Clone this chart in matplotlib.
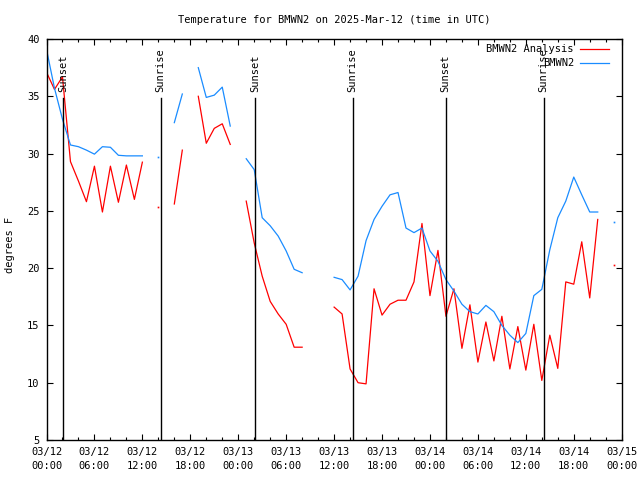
import datetime as dt

import matplotlib
matplotlib.use('Agg')
import matplotlib.pyplot as plt
import matplotlib.dates as mdates
import numpy as np

plt.rcParams['font.family'] = ['DejaVu Sans Mono']
plt.rcParams['font.size'] = 7.5

nan = np.nan
start = dt.datetime(2025, 3, 12, 0, 0)

# hourly values, 03/12 00:00 .. 03/14 23:00 (UTC)
analysis = [37.1, 35.6, 36.7, 29.3, 27.6, 25.8, 28.9, 24.9, 28.9, 25.75, 29.0, 26.0,
            29.25, nan, 25.3, nan, 25.6, 30.3, nan, 35.0, 30.9, 32.2, 32.6, 30.8,
            nan, 25.85, 22.2, 19.3, 17.1, 16.0, 15.1, 13.1, 13.1, nan, nan, nan,
            16.6, 16.0, 11.2, 10.0, 9.9, 18.2, 15.9, 16.85, 17.2, 17.2, 18.8, 23.9,
            17.6, 21.55, 15.8, 18.2, 13.0, 16.8, 11.8, 15.3, 11.9, 15.8, 11.2, 14.9,
            11.1, 15.1, 10.2, 14.15, 11.25, 18.8, 18.6, 22.3, 17.4, 24.25, nan, 20.3]
observed = [39.1, 35.7, 33.0, 30.75, 30.6, 30.3, 29.95, 30.6, 30.55, 29.85, 29.8, 29.8,
            29.8, nan, 29.7, nan, 32.7, 35.2, nan, 37.5, 34.9, 35.1, 35.8, 32.4,
            nan, 29.55, 28.6, 24.4, 23.7, 22.8, 21.5, 19.9, 19.6, nan, nan, nan,
            19.2, 19.0, 18.1, 19.3, 22.4, 24.25, 25.4, 26.4, 26.6, 23.5, 23.1, 23.5,
            21.5, 20.6, 19.0, 18.0, 16.85, 16.2, 16.0, 16.75, 16.2, 15.0, 14.15, 13.5,
            14.3, 17.6, 18.15, 21.6, 24.4, 25.85, 27.95, 26.4, 24.9, 24.9, nan, 24.0]

# hours after 03/12 00:00
sunset_h = [2.04, 26.07, 49.96]
sunrise_h = [14.27, 38.33, 62.24]

times = [start + dt.timedelta(hours=i) for i in range(len(analysis))]


def isolated(vals):
    """points with no neighbour, gnuplot draws them as a dot"""
    v = np.array(vals, dtype=float)
    keep = []
    for i in range(len(v)):
        left = np.isnan(v[i - 1]) if i > 0 else True
        right = np.isnan(v[i + 1]) if i < len(v) - 1 else True
        if not np.isnan(v[i]) and left and right:
            keep.append(i)
    return keep


fig = plt.figure(figsize=(6.4, 4.8), dpi=100)
ax = fig.add_axes([46.5 / 640, 40 / 480, 575.2 / 640, 401 / 480])

red = '#ff0000'
blue = '#1a8cff'
ax.plot(times, analysis, color=red, lw=0.9)
ax.plot(times, observed, color=blue, lw=0.9)
for vals, c in [(analysis, red), (observed, blue)]:
    idx = isolated(vals)
    ax.plot([times[i] for i in idx], [vals[i] for i in idx], ls='none',
            marker='s', ms=1.2, mew=0, color=c)

# sunrise / sunset markers
for label, hours in [('Sunset', sunset_h), ('Sunrise', sunrise_h)]:
    for h in hours:
        t = start + dt.timedelta(hours=h)
        ax.plot([t, t], [0, 0.852], color='black', lw=1.0,
                transform=ax.get_xaxis_transform())
        ax.text(t, 0.868, label, rotation=90, ha='center', va='bottom',
                transform=ax.get_xaxis_transform())

ax.set_xlim(start, start + dt.timedelta(hours=72))
ax.set_ylim(5, 40)
ax.set_yticks(np.arange(5, 41, 5))
ax.xaxis.set_major_locator(mdates.HourLocator(byhour=range(0, 24, 6)))
ax.xaxis.set_minor_locator(mdates.HourLocator(interval=2))
ax.xaxis.set_major_formatter(mdates.DateFormatter('%m/%d\n%H:%M'))
for lab in ax.get_xticklabels():
    lab.set_linespacing(1.45)
ax.tick_params(which='both', direction='in', top=True, right=True, color='black')
ax.tick_params(which='major', length=4.5, width=0.8, pad=5)
ax.tick_params(which='minor', length=2.5, width=0.8)
for s in ax.spines.values():
    s.set_linewidth(1.0)

# key, top right, text before the sample line
tr = ax.transAxes
ax.text(0.917, 0.974, 'BMWN2 Analysis', ha='right', va='center', transform=tr)
ax.plot([0.9275, 0.978], [0.974, 0.974], color=red, lw=0.9, transform=tr, clip_on=False)
ax.text(0.917, 0.941, 'BMWN2', ha='right', va='center', transform=tr)
ax.plot([0.9275, 0.978], [0.941, 0.941], color=blue, lw=0.9, transform=tr, clip_on=False)

fig.text(0.522, 0.958, 'Temperature for BMWN2 on 2025-Mar-12 (time in UTC)',
         ha='center', va='center')
fig.text(10 / 640, 0.49, 'degrees F', rotation=90, ha='center', va='center')

fig.savefig('out.png', dpi=100)
